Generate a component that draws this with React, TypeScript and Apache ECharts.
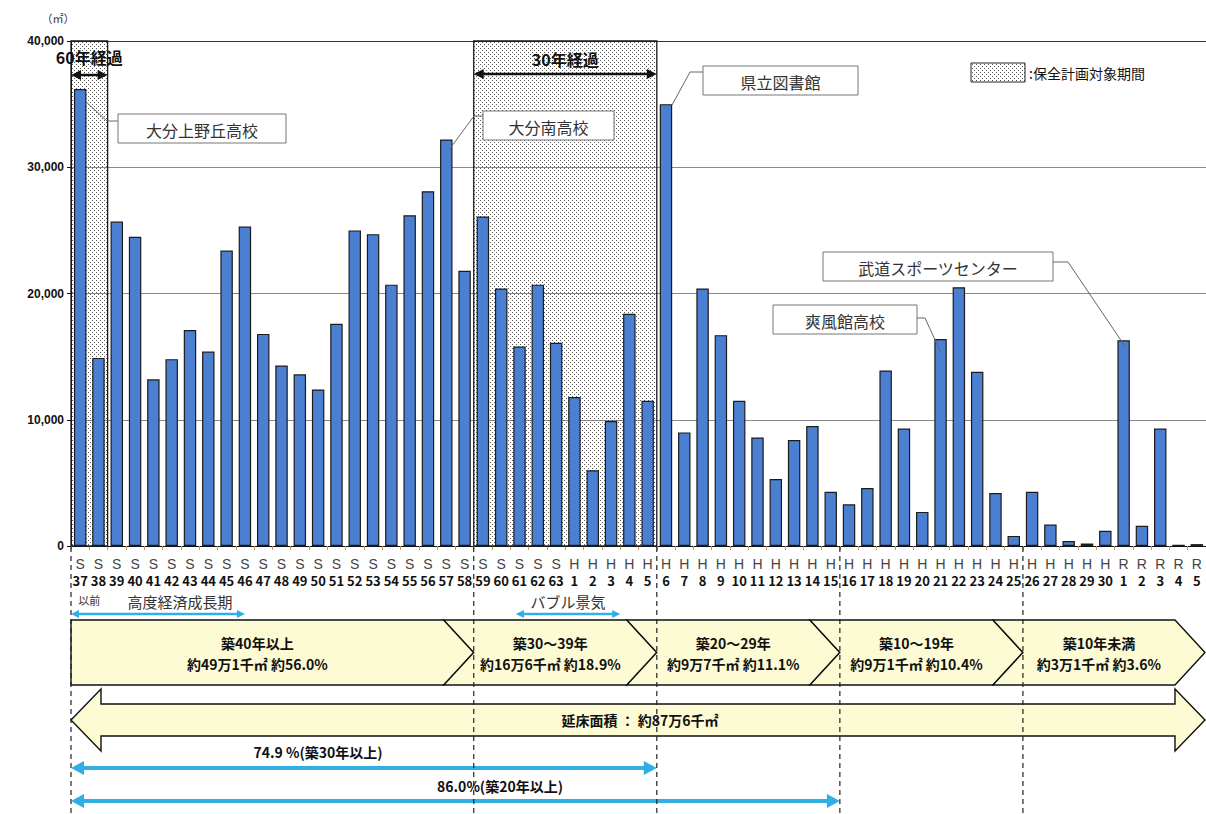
import React, { useEffect, useRef } from 'react';
import * as echarts from 'echarts';

// Build year of each facility group (Showa / Heisei / Reiwa)
const categories = [
  'S37', 'S38', 'S39', 'S40', 'S41', 'S42', 'S43', 'S44', 'S45', 'S46',
  'S47', 'S48', 'S49', 'S50', 'S51', 'S52', 'S53', 'S54', 'S55', 'S56',
  'S57', 'S58', 'S59', 'S60', 'S61', 'S62', 'S63',
  'H1', 'H2', 'H3', 'H4', 'H5', 'H6', 'H7', 'H8', 'H9', 'H10',
  'H11', 'H12', 'H13', 'H14', 'H15', 'H16', 'H17', 'H18', 'H19', 'H20',
  'H21', 'H22', 'H23', 'H24', 'H25', 'H26', 'H27', 'H28', 'H29', 'H30',
  'R1', 'R2', 'R3', 'R4', 'R5',
];

// Total floor area built in each year (m2)
const floorArea = [
  36200, 14900, 25700, 24500, 13200, 14800, 17100, 15400, 23400, 25300,
  16800, 14300, 13600, 12400, 17600, 25000, 24700, 20700, 26200, 28100,
  32200, 21800, 26100, 20400, 15800, 20700, 16100,
  11800, 6000, 9900, 18400, 11500, 35000, 9000, 20400, 16700, 11500,
  8600, 5300, 8400, 9500, 4300, 3300, 4600, 13900, 9300, 2700,
  16400, 20500, 13800, 4200, 800, 4300, 1700, 400, 200, 1200,
  16300, 1600, 9300, 100, 150,
];

const yMax = 40000;
const yStep = 10000;

// Age groups: category index range [start, end)
const ageBands = [
  { title: '築40年以上', detail: '約49万1千㎡ 約56.0%', start: 0, end: 22 },
  { title: '築30～39年', detail: '約16万6千㎡ 約18.9%', start: 22, end: 32 },
  { title: '築20～29年', detail: '約9万7千㎡ 約11.1%', start: 32, end: 42 },
  { title: '築10～19年', detail: '約9万1千㎡ 約10.4%', start: 42, end: 52 },
  { title: '築10年未満', detail: '約3万1千㎡ 約3.6%', start: 52, end: 62 },
];

// Periods covered by the maintenance plan
const planPeriods = [
  { label: '60年経過', start: 0, end: 2, labelY: 57, arrowY: 75 },
  { label: '30年経過', start: 22, end: 32, labelY: 59, arrowY: 74 },
];

// Named buildings: bar index, box [x, y, w, h], elbow and box attach points
const callouts = [
  { name: '大分上野丘高校', idx: 0, off: [6, 13], box: [118, 114, 168, 29], path: [[107, 121], [118, 121]] },
  { name: '大分南高校', idx: 20, off: [3, 10], box: [483, 111, 131, 29], path: [[474, 116], [483, 116]] },
  { name: '県立図書館', idx: 32, off: [6, 1], box: [703, 66, 155, 29], path: [[690, 72], [703, 72]] },
  { name: '武道スポーツセンター', idx: 57, off: [2, 7], box: [823, 252, 230, 29], path: [[1068, 262], [1053, 262]] },
  { name: '爽風館高校', idx: 47, off: [0, 13], box: [773, 305, 144, 29], path: [[925, 318], [917, 318]] },
];

// Economic eras, positions in category units
const eras = [
  { label: '高度経済成長期', from: 0, to: 9.5, textX: 180 },
  { label: 'バブル景気', from: 24.3, to: 30, textX: 568 },
];

// Cumulative share arrows
const shares = [
  { label: '74.9 %(築30年以上)', end: 32, textX: 318, textY: 752, y: 768 },
  { label: '86.0%(築20年以上)', end: 42, textX: 500, textY: 786, y: 801 },
];

const ageBoundaries = [0, 22, 32, 42, 52];

const JP = '"Noto Sans CJK JP", "Noto Sans", sans-serif';
const BLUE_ARROW = '#31aee3';
const BAND_FILL = '#fdfbd3';

function dotPattern() {
  const c = document.createElement('canvas');
  c.width = 4;
  c.height = 4;
  const g = c.getContext('2d')!;
  g.fillStyle = '#5a5a5a';
  g.fillRect(0, 0, 1, 1);
  g.fillRect(2, 2, 1, 1);
  return { image: c.toDataURL(), repeat: 'repeat', imageWidth: 4, imageHeight: 4 };
}

function doubleArrow(x1: number, x2: number, y: number, color: string, lw: number, head: number, half: number, z: number) {
  return [
    { type: 'line', z, shape: { x1: x1 + head * 0.7, y1: y, x2: x2 - head * 0.7, y2: y }, style: { stroke: color, lineWidth: lw } },
    { type: 'polygon', z, shape: { points: [[x1, y], [x1 + head, y - half], [x1 + head, y + half]] }, style: { fill: color } },
    { type: 'polygon', z, shape: { points: [[x2, y], [x2 - head, y - half], [x2 - head, y + half]] }, style: { fill: color } },
  ];
}

function text(x: number, y: number, t: string, size: number, opts: any = {}) {
  return {
    type: 'text',
    z: opts.z ?? 15,
    x,
    y,
    style: {
      text: t,
      fill: opts.fill ?? '#111',
      fontSize: size,
      fontWeight: opts.bold ? 'bold' : 'normal',
      fontFamily: opts.family ?? JP,
      textAlign: opts.align ?? 'center',
      textVerticalAlign: 'middle',
    },
  };
}

function buildGraphics(chart: echarts.ECharts) {
  const px = (i: number) => chart.convertToPixel({ xAxisIndex: 0 }, i) as number;
  const band = px(1) - px(0);
  const x0 = px(0) - band / 2;
  const xAt = (b: number) => x0 + b * band;
  const yTop = chart.convertToPixel({ yAxisIndex: 0 }, yMax) as number;
  const yBase = chart.convertToPixel({ yAxisIndex: 0 }, 0) as number;
  const pattern = dotPattern();
  const els: any[] = [];

  // shaded plan periods with their span arrows
  planPeriods.forEach((p) => {
    const a = xAt(p.start);
    const b = xAt(p.end);
    els.push({
      type: 'rect', z: 1,
      shape: { x: a, y: yTop, width: b - a, height: yBase - yTop },
      style: { fill: pattern, stroke: '#1a1a1a', lineWidth: 1.3 },
    });
    els.push(text((a + b) / 2, p.labelY, p.label, 16, { bold: true, z: 16 }));
    els.push(...doubleArrow(a, b, p.arrowY, '#111', 2.5, 10, 5, 16));
  });

  // legend sample
  els.push({
    type: 'rect', z: 15,
    shape: { x: 971, y: 63, width: 54, height: 19 },
    style: { fill: pattern, stroke: '#222', lineWidth: 1 },
  });
  els.push(text(1029, 73, ':保全計画対象期間', 14, { align: 'left' }));

  // callouts
  callouts.forEach((c) => {
    const [bx, by] = chart.convertToPixel({ xAxisIndex: 0, yAxisIndex: 0 }, [c.idx, floorArea[c.idx]]) as number[];
    els.push({
      type: 'polyline', z: 12,
      shape: { points: [[bx + c.off[0], by + c.off[1]], ...c.path] },
      style: { stroke: '#666', lineWidth: 1, fill: null },
    });
    const [x, y, w, h] = c.box;
    els.push({
      type: 'rect', z: 13,
      shape: { x, y, width: w, height: h },
      style: { fill: '#fff', stroke: '#777', lineWidth: 1 },
    });
    els.push(text(x + w / 2, y + h / 2 + 1, c.name, 16, { fill: '#333' }));
  });

  // era markers under the axis
  els.push(text(xAt(1), 600, '以前', 11, { fill: '#333' }));
  eras.forEach((e) => {
    els.push(text(e.textX, 601, e.label, 15, { fill: '#333' }));
    els.push(...doubleArrow(xAt(e.from), xAt(e.to), 614, BLUE_ARROW, 2.5, 8, 4, 14));
  });

  // age group chevrons
  const bandTop = 620;
  const bandBot = 685;
  const bandMid = (bandTop + bandBot) / 2;
  const notch = 30;
  const rightEdge = 1205;
  ageBands.forEach((g, i) => {
    const L = xAt(g.start);
    const R = Math.min(xAt(g.end), rightEdge);
    const pts = i === 0
      ? [[L, bandTop], [R - notch, bandTop], [R, bandMid], [R - notch, bandBot], [L, bandBot]]
      : [[L - notch, bandTop], [R - notch, bandTop], [R, bandMid], [R - notch, bandBot], [L - notch, bandBot], [L, bandMid]];
    els.push({ type: 'polygon', z: 5, shape: { points: pts }, style: { fill: BAND_FILL, stroke: '#111', lineWidth: 1.4 } });
    const cx = (L + R - notch) / 2;
    els.push(text(cx, bandTop + 23, g.title, 14, { bold: true, z: 8 }));
    els.push(text(cx, bandTop + 44, g.detail, 14, { bold: true, z: 8 }));
  });

  // total floor area double arrow
  const aL = xAt(0);
  const aR = rightEdge;
  const head = 30;
  els.push({
    type: 'polygon', z: 5,
    shape: {
      points: [
        [aL, 720], [aL + head, 689], [aL + head, 704], [aR - head, 704], [aR - head, 689],
        [aR, 720], [aR - head, 751], [aR - head, 736], [aL + head, 736], [aL + head, 751],
      ],
    },
    style: { fill: BAND_FILL, stroke: '#111', lineWidth: 1.4 },
  });
  els.push(text(640, 720, '延床面積 ： 約87万6千㎡', 14, { bold: true, z: 8 }));

  // cumulative share arrows
  shares.forEach((s) => {
    els.push(text(s.textX, s.textY, s.label, 14, { bold: true }));
    els.push(...doubleArrow(xAt(0), xAt(s.end), s.y, BLUE_ARROW, 4, 13, 7, 14));
  });

  // dashed age boundaries below the axis
  ageBoundaries.forEach((b) => {
    els.push({
      type: 'line', z: 20,
      shape: { x1: xAt(b), y1: yBase + 1, x2: xAt(b), y2: 814 },
      style: { stroke: '#222', lineWidth: 1.2, lineDash: [5, 4] },
    });
  });

  // unit label
  els.push(text(58, 18, '（㎡）', 11, { fill: '#333' }));

  return els;
}

export default function App() {
  const ref = useRef<HTMLDivElement>(null);

  useEffect(() => {
    const chart = echarts.init(ref.current!, null, { renderer: 'svg' });
    chart.setOption({
      animation: false,
      backgroundColor: '#fff',
      grid: { left: 71, top: 41, width: 1136, height: 505, containLabel: false },
      xAxis: {
        type: 'category',
        data: categories,
        boundaryGap: true,
        axisLine: { lineStyle: { color: '#111', width: 1 } },
        axisTick: { show: true, length: 4, interval: 0, lineStyle: { color: '#c4976a' } },
        axisLabel: {
          interval: 0,
          margin: 9,
          formatter: (v: string) => `{e|${v[0]}}\n{n|${v.slice(1)}}`,
          rich: {
            e: { fontSize: 14, color: '#444', lineHeight: 17, fontFamily: '"Liberation Sans", Arial, sans-serif' },
            n: { fontSize: 13, color: '#111', fontWeight: 'bold', lineHeight: 17, fontFamily: JP },
          },
        },
      },
      yAxis: {
        type: 'value',
        min: 0,
        max: yMax,
        interval: yStep,
        axisLine: { show: true, lineStyle: { color: '#111' } },
        axisTick: { show: true, length: 4, lineStyle: { color: '#111' } },
        axisLabel: {
          formatter: (v: number) => v.toLocaleString('en-US'),
          fontWeight: 'bold',
          fontSize: 12,
          color: '#111',
          margin: 7,
          fontFamily: '"Liberation Sans", Arial, sans-serif',
        },
        splitLine: { lineStyle: { color: ['#8a8a8a', '#8a8a8a', '#8a8a8a', '#8a8a8a', '#333'], width: 1 } },
      },
      series: [
        {
          type: 'bar',
          data: floorArea,
          barCategoryGap: '32%',
          z: 2,
          itemStyle: { color: '#4a7fd2', borderColor: '#1c1c1c', borderWidth: 1.2 },
        },
      ],
    });
    chart.setOption({ graphic: buildGraphics(chart) });
    return () => chart.dispose();
  }, []);

  return (
    <div
      ref={ref}
      style={{ position: 'fixed', left: 0, top: 0, width: 1206, height: 814, background: '#fff' }}
    />
  );
}
